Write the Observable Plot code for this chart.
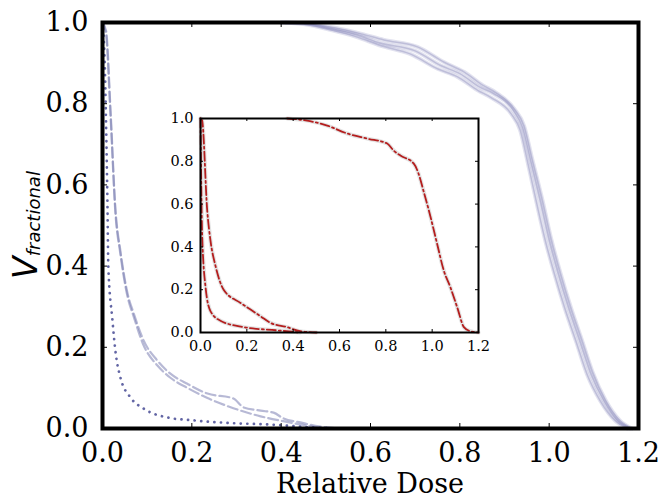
<!DOCTYPE html>
<html><head><meta charset="utf-8">
<script src="https://cdn.jsdelivr.net/npm/d3@7"></script>
<script src="https://cdn.jsdelivr.net/npm/@observablehq/plot@0.6"></script>
<style>
html,body{margin:0;padding:0;background:#fff;}
#wrap{position:relative;width:660px;height:499px;overflow:hidden;}
#inset{position:absolute;left:160px;top:108px;}
</style></head><body>
<div id="wrap"><div id="main"></div><div id="inset"></div></div>
<script>
// ---- tick values / labels ----
const xTicks = [0, 0.2, 0.4, 0.6, 0.8, 1.0, 1.2];
const xTickLabels = ["0.0", "0.2", "0.4", "0.6", "0.8", "1.0", "1.2"];
const yTicks = [0, 0.2, 0.4, 0.6, 0.8, 1.0];
const yTickLabels = ["0.0", "0.2", "0.4", "0.6", "0.8", "1.0"];
const xLabel = "Relative Dose";
const yLabelMain = "V";
const yLabelSub = "fractional";

// ---- main panel: target (solid) curves ----
const solidA_x = [0.40, 0.45, 0.51, 0.57, 0.62, 0.70, 0.757, 0.80, 0.846, 0.875, 0.92, 0.94, 0.958, 0.98, 1.00, 1.02, 1.043, 1.068, 1.093, 1.122, 1.153, 1.18];
const solidA_y = [1.0, 0.998, 0.985, 0.97, 0.95, 0.93, 0.894, 0.874, 0.84, 0.825, 0.783, 0.741, 0.66, 0.56, 0.463, 0.382, 0.298, 0.217, 0.135, 0.069, 0.02, 0.0];
const solidB_x = [0.41, 0.46, 0.52, 0.58, 0.63, 0.705, 0.765, 0.81, 0.852, 0.88, 0.922, 0.944, 0.962, 0.985, 1.005, 1.025, 1.048, 1.073, 1.098, 1.126, 1.158, 1.185];
const solidB_y = [1.0, 0.997, 0.987, 0.972, 0.957, 0.94, 0.902, 0.878, 0.845, 0.828, 0.787, 0.745, 0.664, 0.562, 0.465, 0.384, 0.3, 0.219, 0.137, 0.07, 0.02, 0.0];
const solidC_x = [0.40, 0.45, 0.51, 0.57, 0.62, 0.69, 0.75, 0.795, 0.84, 0.87, 0.915, 0.935, 0.952, 0.972, 0.992, 1.012, 1.035, 1.06, 1.085, 1.115, 1.148, 1.175];
const solidC_y = [1.0, 0.996, 0.982, 0.964, 0.944, 0.922, 0.886, 0.866, 0.833, 0.815, 0.775, 0.735, 0.655, 0.555, 0.46, 0.38, 0.296, 0.215, 0.133, 0.067, 0.019, 0.0];

// ---- main panel: dashed curves ----
const dashA_x = [0.0, 0.008, 0.018, 0.029, 0.04, 0.056, 0.07, 0.092, 0.123, 0.152, 0.19, 0.235, 0.293, 0.316, 0.354, 0.383, 0.405, 0.443, 0.48, 0.53];
const dashA_y = [1.0, 0.98, 0.783, 0.54, 0.438, 0.333, 0.283, 0.217, 0.167, 0.135, 0.11, 0.086, 0.074, 0.052, 0.044, 0.039, 0.025, 0.015, 0.006, 0.0];
const dashB_x = [0.0, 0.008, 0.018, 0.029, 0.04, 0.056, 0.07, 0.092, 0.123, 0.152, 0.19, 0.235, 0.293, 0.354, 0.405, 0.443, 0.5];
const dashB_y = [1.0, 0.97, 0.77, 0.53, 0.43, 0.325, 0.275, 0.205, 0.155, 0.125, 0.1, 0.075, 0.05, 0.03, 0.018, 0.01, 0.0];

// ---- main panel: dotted curve ----
const dot_x = [0.0, 0.005, 0.008, 0.011, 0.013, 0.022, 0.029, 0.04, 0.063, 0.092, 0.146, 0.204, 0.293, 0.37, 0.45, 0.52];
const dot_y = [1.0, 0.9, 0.75, 0.56, 0.4, 0.27, 0.19, 0.126, 0.076, 0.049, 0.027, 0.02, 0.013, 0.01, 0.004, 0.0];

// ---- inset: red dash-dot curves ----
const redT_x = [0.374, 0.46, 0.547, 0.633, 0.72, 0.806, 0.834, 0.863, 0.92, 0.941, 0.962, 0.993, 1.021, 1.05, 1.079, 1.108, 1.137, 1.165, 1.2];
const redT_y = [1.0, 0.99, 0.967, 0.93, 0.906, 0.883, 0.85, 0.827, 0.79, 0.743, 0.664, 0.54, 0.416, 0.29, 0.21, 0.118, 0.025, 0.006, 0.0];
const redU_x = [0.0, 0.007, 0.029, 0.043, 0.065, 0.1, 0.173, 0.216, 0.259, 0.302, 0.374, 0.43, 0.5];
const redU_y = [1.0, 0.99, 0.57, 0.43, 0.31, 0.2, 0.138, 0.107, 0.076, 0.045, 0.025, 0.006, 0.0];
const redL_x = [0.0, 0.007, 0.022, 0.043, 0.086, 0.187, 0.33, 0.43];
const redL_y = [1.0, 0.46, 0.21, 0.1, 0.055, 0.025, 0.01, 0.0];

const rows = (xs, ys, id) => xs.map((x, i) => ({x, y: ys[i], id}));
const solidRows = [...rows(solidA_x, solidA_y, "A"), ...rows(solidB_x, solidB_y, "B"), ...rows(solidC_x, solidC_y, "C")];
const dashRows = [...rows(dashA_x, dashA_y, "A"), ...rows(dashB_x, dashB_y, "B")];
const dotRows = rows(dot_x, dot_y, "D");
const redRows = [...rows(redT_x, redT_y, "T"), ...rows(redU_x, redU_y, "U"), ...rows(redL_x, redL_y, "L")];

function inwardTicks(fw, fh, len, sw) {
  return [
    Plot.tickX(xTicks, {x: d => d, insetTop: fh - len, stroke: "black", strokeWidth: sw}),
    Plot.tickX(xTicks, {x: d => d, insetBottom: fh - len, stroke: "black", strokeWidth: sw}),
    Plot.tickY(yTicks, {y: d => d, insetRight: fw - len, stroke: "black", strokeWidth: sw}),
    Plot.tickY(yTicks, {y: d => d, insetLeft: fw - len, stroke: "black", strokeWidth: sw})
  ];
}

const W = 660, H = 499, mL = 102, mR = 22, mT = 22, mB = 71;
const main = Plot.plot({
  width: W, height: H, marginLeft: mL, marginRight: mR, marginTop: mT, marginBottom: mB,
  x: {domain: [0, 1.2]}, y: {domain: [0, 1]},
  style: {fontFamily: "DejaVu Serif", background: "white", color: "black"},
  marks: [
    Plot.line(solidRows, {x: "x", y: "y", z: "id", stroke: "#8a8cbf", strokeOpacity: 0.25, strokeWidth: 4, curve: "monotone-x"}),
    Plot.line(solidRows, {x: "x", y: "y", z: "id", stroke: "#7a7cb2", strokeOpacity: 0.35, strokeWidth: 1.5, curve: "monotone-x"}),
    Plot.line(dashRows, {x: "x", y: "y", z: "id", stroke: "#7c7fb2", strokeOpacity: 0.55, strokeWidth: 2.2, strokeDasharray: "10,4", curve: "monotone-x"}),
    Plot.line(dotRows, {x: "x", y: "y", z: "id", stroke: "#5a5d9f", strokeOpacity: 0.95, strokeWidth: 2.7, strokeDasharray: "0.1,6.5", strokeLinecap: "round", curve: "monotone-x"}),
    ...inwardTicks(W - mL - mR, H - mT - mB, 5, 1),
    Plot.frame({stroke: "black", strokeWidth: 4}),
    Plot.axisX(xTicks, {tickSize: 0, tickPadding: 14, fontSize: 27, tickFormat: (d, i) => xTickLabels[i], label: null}),
    Plot.axisY(yTicks, {tickSize: 0, tickPadding: 14, fontSize: 27, tickFormat: (d, i) => yTickLabels[i], label: null})
  ]
});
document.getElementById("main").appendChild(main);

const ms = d3.select(main);
ms.append("text").attr("x", 370).attr("y", 492.5).attr("text-anchor", "middle")
  .attr("font-family", "DejaVu Serif").attr("font-size", 27).attr("fill", "black").text(xLabel);
const yl = ms.append("text").attr("transform", "translate(37,225) rotate(-90)").attr("text-anchor", "middle")
  .attr("font-family", "DejaVu Sans").attr("font-style", "italic").attr("fill", "black");
yl.append("tspan").attr("font-size", 33).text(yLabelMain);
yl.append("tspan").attr("font-size", 18).attr("dy", 3).text(yLabelSub);

const iW = 330, iH = 250, iL = 40, iR = 12, iT = 10, iB = 26;
const inset = Plot.plot({
  width: iW, height: iH, marginLeft: iL, marginRight: iR, marginTop: iT, marginBottom: iB,
  x: {domain: [0, 1.2]}, y: {domain: [0, 1]},
  style: {fontFamily: "DejaVu Serif", background: "transparent", color: "black"},
  marks: [
    Plot.frame({fill: "white"}),
    Plot.line(redRows, {x: "x", y: "y", z: "id", stroke: "#c8c8c8", strokeOpacity: 0.5, strokeWidth: 4, curve: "monotone-x"}),
    Plot.line(redRows, {x: "x", y: "y", z: "id", stroke: "#b41e1e", strokeWidth: 1.8, strokeDasharray: "9,3,2,3", curve: "monotone-x"}),
    ...inwardTicks(iW - iL - iR, iH - iT - iB, 3, 1),
    Plot.frame({stroke: "black", strokeWidth: 2}),
    Plot.axisX(xTicks, {tickSize: 0, tickPadding: 8, fontSize: 14.5, tickFormat: (d, i) => xTickLabels[i], label: null}),
    Plot.axisY(yTicks, {tickSize: 0, tickPadding: 7, fontSize: 14.5, tickFormat: (d, i) => yTickLabels[i], label: null})
  ]
});
document.getElementById("inset").appendChild(inset);
</script>
</body></html>
